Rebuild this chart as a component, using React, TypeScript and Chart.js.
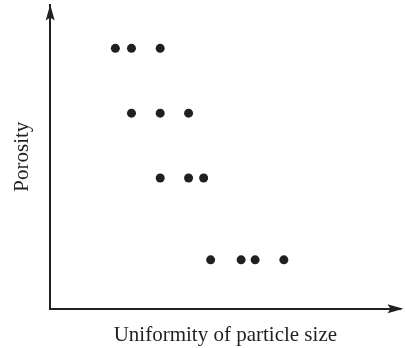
import React, { useEffect, useRef } from "react";
import { Chart, registerables } from "chart.js";

Chart.register(...registerables);

// Data (arbitrary units, axes have no ticks)
const uniformity = [18.6, 23.2, 31.4, 23.2, 31.4, 39.5, 31.4, 39.5, 43.8, 45.8, 54.5, 58.5, 66.7];
const porosity = [85.6, 85.6, 85.6, 64.3, 64.3, 64.3, 43.0, 43.0, 43.0, 16.1, 16.1, 16.1, 16.1];
const xTitle = "Uniformity of particle size";
const yTitle = "Porosity";

const INK = "#231f20";
const FONT = "'Liberation Serif', 'Times New Roman', serif";

const arrowPlugin = {
  id: "axisArrows",
  afterDraw(chart: any) {
    const { ctx, chartArea } = chart;
    const { left, top, right, bottom } = chartArea;
    ctx.save();
    ctx.fillStyle = INK;
    // y-axis arrow
    ctx.beginPath();
    ctx.moveTo(left, top);
    ctx.lineTo(left - 4.5, top + 16);
    ctx.lineTo(left, top + 13);
    ctx.lineTo(left + 4.5, top + 16);
    ctx.closePath();
    ctx.fill();
    // x-axis arrow
    ctx.beginPath();
    ctx.moveTo(right + 3, bottom);
    ctx.lineTo(right - 13, bottom - 4.5);
    ctx.lineTo(right - 10, bottom);
    ctx.lineTo(right - 13, bottom + 4.5);
    ctx.closePath();
    ctx.fill();
    ctx.restore();
  },
};

export default function App() {
  const ref = useRef<HTMLCanvasElement | null>(null);
  useEffect(() => {
    if (!ref.current) return;
    const data = uniformity.map((x, i) => ({ x, y: porosity[i] }));
    const chart = new Chart(ref.current, {
      type: "scatter",
      data: {
        datasets: [
          {
            data,
            pointRadius: 4.5,
            pointHoverRadius: 4.5,
            pointBackgroundColor: INK,
            pointBorderWidth: 0,
            borderColor: INK,
          },
        ],
      },
      options: {
        responsive: false,
        animation: false,
        events: [],
        layout: { padding: { top: 4, right: 2, left: 0, bottom: 0 } },
        plugins: { legend: { display: false }, tooltip: { enabled: false } },
        scales: {
          x: {
            type: "linear",
            min: 0,
            max: 100,
            grid: { display: false, drawTicks: false },
            ticks: { display: false },
            border: { display: true, color: INK, width: 2 },
            title: {
              display: true,
              text: xTitle,
              color: INK,
              font: { family: FONT, size: 21, weight: "normal" },
              padding: { top: 14, bottom: 0 },
            },
          },
          y: {
            type: "linear",
            min: 0,
            max: 100,
            grid: { display: false, drawTicks: false },
            ticks: { display: false },
            border: { display: true, color: INK, width: 2 },
            title: {
              display: true,
              text: yTitle,
              color: INK,
              font: { family: FONT, size: 21, weight: "normal" },
              padding: { top: 10, bottom: 15 },
            },
          },
        },
      },
      plugins: [arrowPlugin],
    });
    return () => chart.destroy();
  }, []);
  return (
    <div style={{ position: "absolute", left: 0, top: 0, width: 405, height: 348 }}>
      <canvas ref={ref} width={405} height={348} style={{ width: 405, height: 348 }} />
    </div>
  );
}
